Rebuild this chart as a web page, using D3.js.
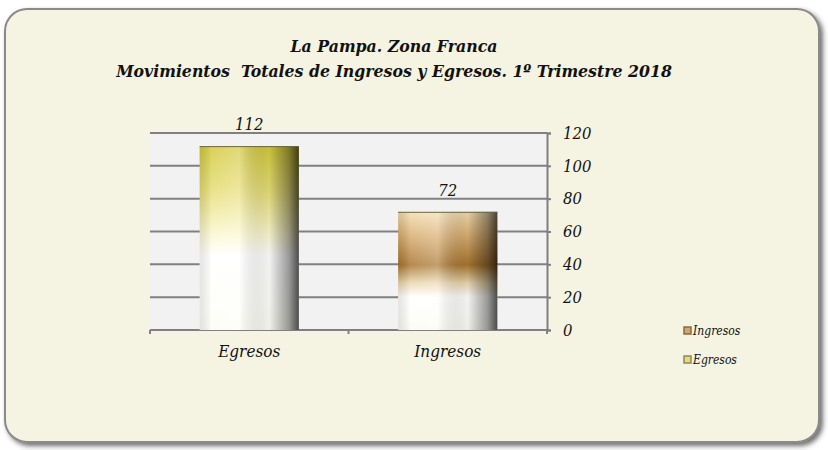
<!DOCTYPE html>
<head>
<meta charset="utf-8">
<style>
body { margin: 0; background: #fff; }
text { font-family: "DejaVu Serif Condensed", "DejaVu Serif", serif; font-style: italic; fill: #111; }
.title { font-weight: bold; font-size: 17.5px; white-space: pre; }
.tick line { stroke: #7f7f7f; stroke-width: 2px; }
.domain { stroke: #7f7f7f; stroke-width: 2px; }
</style>
</head>
<body>
<svg width="828" height="450"></svg>
<script src="https://d3js.org/d3.v7.min.js"></script>
<script>
// chart values
var categories = ["Egresos", "Ingresos"];
var values = [112, 72];
var yTicks = [0, 20, 40, 60, 80, 100, 120];
var legendLabels = ["Ingresos", "Egresos"];
var titleLines = ["La Pampa. Zona Franca", "Movimientos  Totales de Ingresos y Egresos. 1º Trimestre 2018"];

var svg = d3.select("svg");
var defs = svg.append("defs");

var shadow = defs.append("filter").attr("id", "shadow")
    .attr("x", "-5%").attr("y", "-5%").attr("width", "110%").attr("height", "115%");
shadow.append("feDropShadow").attr("dx", 3).attr("dy", 3)
    .attr("stdDeviation", 2.5).attr("flood-color", "#333").attr("flood-opacity", 0.7);

// vertical colour ramps for each bar
var barStops = {
  Egresos: [[0, "#d2c93c"], [0.25, "#e6de78"], [0.48, "#fbf7cf"], [0.6, "#ffffff"], [1, "#fdfdf6"]],
  Ingresos: [[0, "#f3dcb0"], [0.2, "#d8ae72"], [0.45, "#a8752f"], [0.6, "#e9d6ac"], [0.72, "#ffffff"], [1, "#fbfbf4"]]
};
categories.forEach(function(c) {
  var lg = defs.append("linearGradient").attr("id", "v-" + c)
      .attr("x1", 0).attr("y1", 0).attr("x2", 0).attr("y2", 1);
  barStops[c].forEach(function(s) {
    lg.append("stop").attr("offset", s[0]).attr("stop-color", s[1]);
  });
});
// horizontal cylinder shading
var hs = defs.append("linearGradient").attr("id", "h-shade")
    .attr("x1", 0).attr("y1", 0).attr("x2", 1).attr("y2", 0);
[[0, "#000", 0.1], [0.12, "#fff", 0.15], [0.4, "#fff", 0.3], [0.7, "#000", 0.05], [0.9, "#000", 0.4], [1, "#000", 0.7]]
  .forEach(function(s) {
    hs.append("stop").attr("offset", s[0]).attr("stop-color", s[1]).attr("stop-opacity", s[2]);
  });

// frame
svg.append("rect")
    .attr("x", 5).attr("y", 9).attr("width", 814).attr("height", 433)
    .attr("rx", 22)
    .attr("fill", "#f5f3e1")
    .attr("stroke", "#8a8a8a")
    .attr("stroke-width", 2)
    .attr("filter", "url(#shadow)");

// title
svg.append("text").attr("class", "title")
  .selectAll("tspan").data(titleLines).enter().append("tspan")
    .attr("x", 394)
    .attr("y", function(d, i) { return 52 + i * 25; })
    .attr("text-anchor", "middle")
    .text(function(d) { return d; });

var x = d3.scaleBand()
    .domain(categories)
    .range([150, 547])
    .paddingInner(0.5)
    .paddingOuter(0.25);

var y = d3.scaleLinear()
    .domain([0, 120])
    .range([330, 133]);

// plot area
svg.append("rect")
    .attr("x", 150).attr("y", y(120))
    .attr("width", 397).attr("height", y(0) - y(120))
    .attr("fill", "#f2f2f2");

// gridlines
svg.append("g")
  .selectAll("line")
  .data(yTicks)
  .enter().append("line")
    .attr("x1", 150).attr("x2", 547)
    .attr("y1", function(d) { return y(d); })
    .attr("y2", function(d) { return y(d); })
    .attr("stroke", "#808080")
    .attr("stroke-width", 2);

// right axis
var yAxis = svg.append("g")
    .attr("transform", "translate(547,0)")
    .call(d3.axisRight(y).tickValues(yTicks).tickSize(4).tickPadding(12));
yAxis.selectAll("text").style("font-size", "16.5px").attr("fill", "#111");
yAxis.select(".domain").attr("stroke", "#c8c8c8").attr("stroke-width", 1);

// bottom axis
var xAxis = svg.append("g")
    .attr("transform", "translate(0," + y(0) + ")")
    .call(d3.axisBottom(x).tickSize(0).tickPadding(15));
xAxis.select(".domain").remove();
xAxis.selectAll("text").style("font-size", "17px").attr("fill", "#111");
var step = x.step();
svg.append("g").selectAll("line")
  .data([0, 1, 2])
  .enter().append("line")
    .attr("x1", function(d) { return 150 + d * step; })
    .attr("x2", function(d) { return 150 + d * step; })
    .attr("y1", y(0)).attr("y2", y(0) + 4)
    .attr("stroke", "#808080").attr("stroke-width", 2);
svg.append("line")
    .attr("x1", 150).attr("x2", 547)
    .attr("y1", y(0)).attr("y2", y(0))
    .attr("stroke", "#808080").attr("stroke-width", 2);

// bars
var bars = svg.append("g").selectAll("g")
  .data(categories)
  .enter().append("g");
bars.append("rect")
    .attr("x", function(d) { return x(d); })
    .attr("y", function(d, i) { return y(values[i]); })
    .attr("width", x.bandwidth())
    .attr("height", function(d, i) { return y(0) - y(values[i]); })
    .attr("fill", function(d) { return "url(#v-" + d + ")"; });
bars.append("rect")
    .attr("x", function(d) { return x(d); })
    .attr("y", function(d, i) { return y(values[i]); })
    .attr("width", x.bandwidth())
    .attr("height", function(d, i) { return y(0) - y(values[i]); })
    .attr("fill", "url(#h-shade)");
bars.append("line")
    .attr("x1", function(d) { return x(d); })
    .attr("x2", function(d) { return x(d) + x.bandwidth(); })
    .attr("y1", function(d, i) { return y(values[i]) + 0.5; })
    .attr("y2", function(d, i) { return y(values[i]) + 0.5; })
    .attr("stroke", "#6b6640").attr("stroke-width", 1);

// value labels
bars.append("text")
    .attr("x", function(d) { return x(d) + x.bandwidth() / 2; })
    .attr("y", function(d, i) { return y(values[i]) - 16; })
    .attr("text-anchor", "middle")
    .style("font-size", "16.5px")
    .text(function(d, i) { return values[i]; });

// legend
var legendColors = { Ingresos: ["#c9a878", "#8c6a3a"], Egresos: ["#e2d98a", "#8f8a4a"] };
var legend = svg.append("g").selectAll("g")
  .data(legendLabels)
  .enter().append("g")
    .attr("transform", function(d, i) { return "translate(684," + (332 + i * 29) + ")"; });
legend.append("rect")
    .attr("x", 0).attr("y", -5).attr("width", 7).attr("height", 7)
    .attr("fill", function(d) { return legendColors[d][0]; })
    .attr("stroke", function(d) { return legendColors[d][1]; })
    .attr("stroke-width", 1.5);
legend.append("text")
    .attr("x", 9).attr("y", 3)
    .style("font-size", "12px")
    .text(function(d) { return d; });
</script>
</body>
